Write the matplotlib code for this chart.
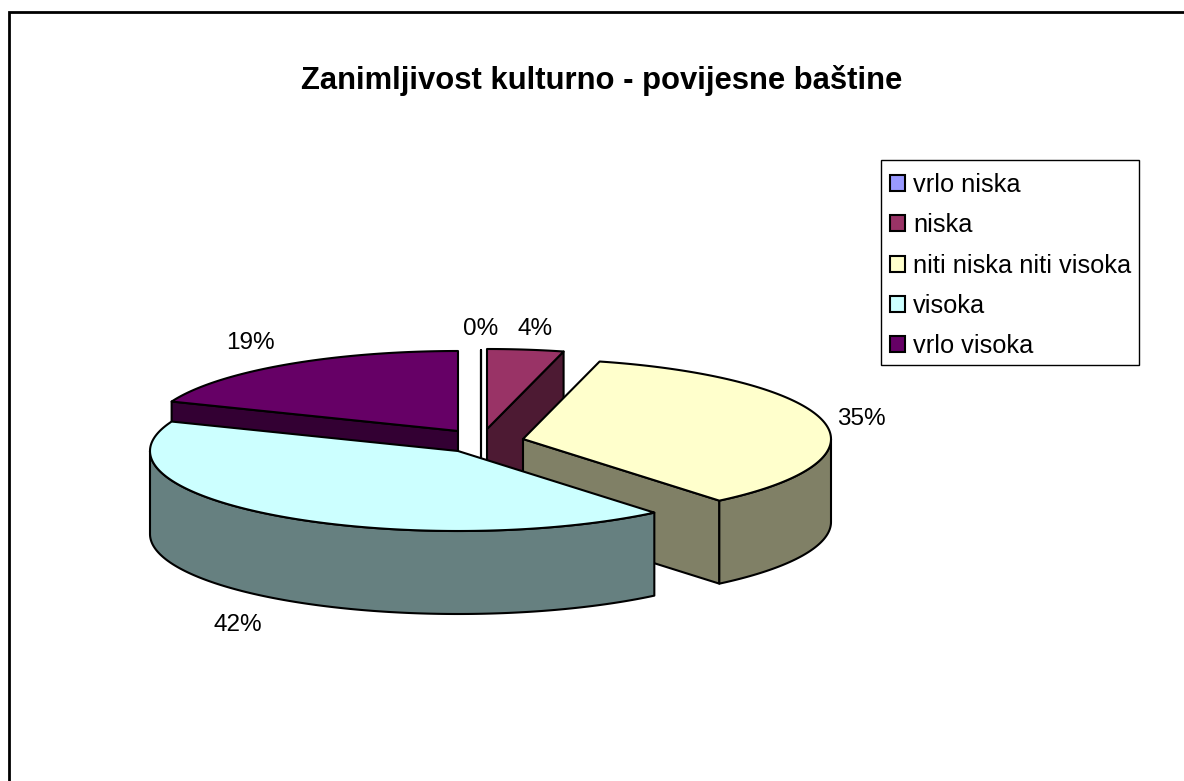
import numpy as np
import matplotlib
matplotlib.use("Agg")
import matplotlib.pyplot as plt
from matplotlib.colors import to_rgb
from matplotlib.patches import Patch, Rectangle

plt.rcParams['font.family'] = ['Liberation Sans', 'DejaVu Sans']

title = "Zanimljivost kulturno - povijesne baštine"
categories = ["vrlo niska", "niska", "niti niska niti visoka", "visoka", "vrlo visoka"]
values = [0, 4, 35, 42, 19]
colors = ["#9999FF", "#993366", "#FFFFCC", "#CCFFFF", "#660066"]

# exploded centre of each slice, pixels
centers = [(481, 430), (487, 429), (523, 439), (458, 451), (458, 431)]
label_pos = [(481, 329), (535, 329), (861, 419), (238, 625), (250, 343)]
draw_order = [0, 4, 1, 2, 3]
rx, ry, depth = 308, 80, 83

fig = plt.figure(figsize=(11.84, 7.81), dpi=100)
ax = fig.add_axes([0, 0, 1, 1])
ax.set_xlim(0, 1184)
ax.set_ylim(781, 0)
ax.axis('off')


def rim(c, a, b):
    # points on the ellipse, angle clockwise from 12 o'clock
    t = np.radians(np.linspace(a, b, max(int(abs(b - a) * 2), 2)))
    return c[0] + rx * np.sin(t), c[1] - ry * np.cos(t)


def wall(c, a):
    # cut face of a slice, from centre to rim
    x, y = rim(c, a, a)
    xs = [c[0], x[0], x[0], c[0]]
    ys = [c[1], y[0], y[0] + depth, c[1] + depth]
    return xs, ys


ends = np.cumsum(values) * 3.6
starts = ends - np.array(values) * 3.6

for i in draw_order:
    c = centers[i]
    a, b = starts[i], ends[i]
    side = np.array(to_rgb(colors[i])) * 0.5
    # cut faces that look towards the viewer
    if np.sin(np.radians(a)) < -1e-6:
        ax.fill(*wall(c, a), fc=side, ec='black', lw=1.5, joinstyle='round')
    if np.sin(np.radians(b)) > 1e-6 or a == b:
        ax.fill(*wall(c, b), fc=side, ec='black', lw=1.5, joinstyle='round')
    # outer wall, only the front half of the pie shows
    lo, hi = max(a, 90), min(b, 270)
    if hi > lo:
        x, y = rim(c, lo, hi)
        ax.fill(np.r_[x, x[::-1]], np.r_[y, y[::-1] + depth],
                fc=side, ec='black', lw=1.5, joinstyle='round')
    # top face
    x, y = rim(c, a, b)
    ax.fill(np.r_[c[0], x], np.r_[c[1], y], fc=colors[i], ec='black', lw=1.5,
            joinstyle='round')

for v, (lx, ly) in zip(values, label_pos):
    ax.text(lx, ly, f"{v}%", ha='center', va='center', fontsize=17.5, color='black')

ax.text(602, 80, title, ha='center', va='center', fontsize=22.3,
        fontweight='bold', color='black')

# legend box is separate so the paddings can differ
ax.add_patch(Rectangle((881, 160), 258, 205, fc='white', ec='black', lw=1))
handles = [Patch(fc=col, ec='black', lw=1.5) for col in colors]
ax.legend(handles, categories, loc='upper left', bbox_to_anchor=(890, 173),
          bbox_transform=ax.transData, fontsize=18.3, frameon=False,
          handlelength=0.6, handleheight=0.6, handletextpad=0.32,
          labelspacing=0.64, borderpad=0, borderaxespad=0, labelcolor='black')

# chart area border, only top and left are inside the crop
ax.plot([9, 9, 1184], [781, 12, 12], color='black', lw=2, solid_joinstyle='miter')

fig.savefig("out.png", dpi=100)
